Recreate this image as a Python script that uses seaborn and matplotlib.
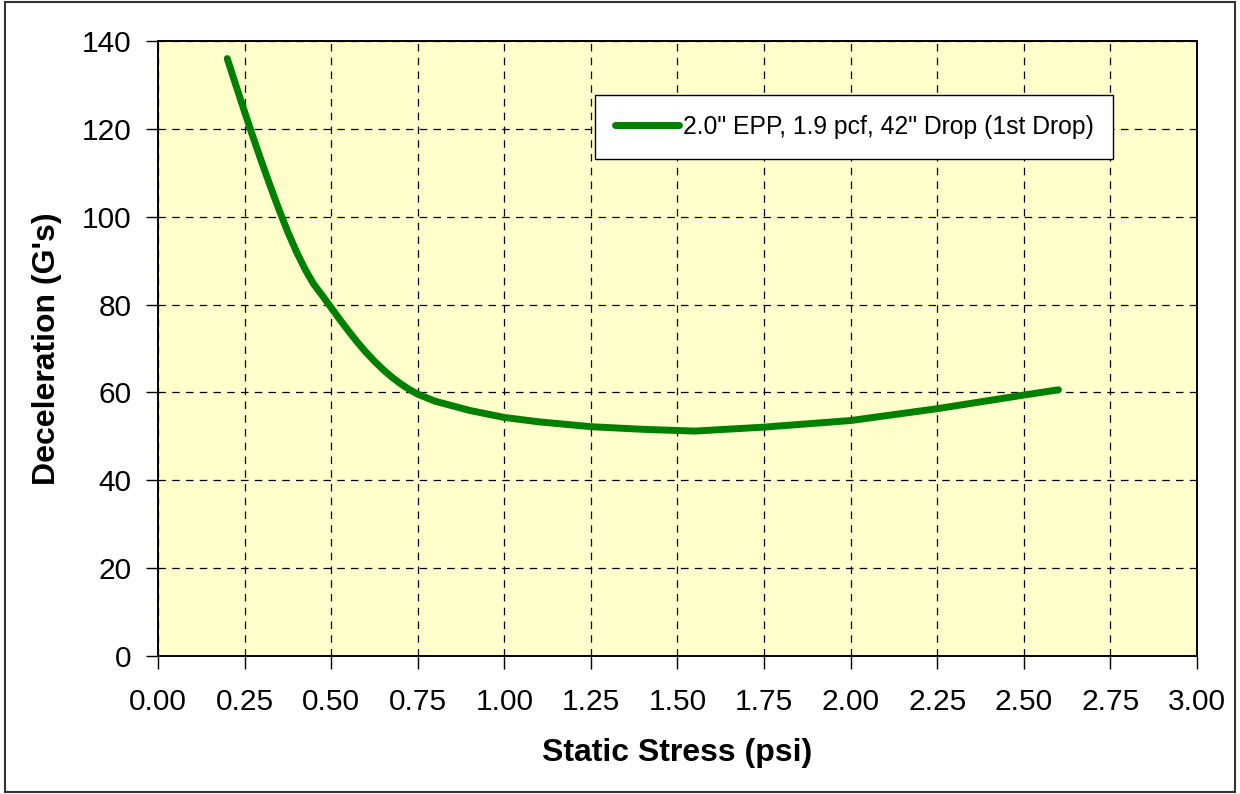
import matplotlib
matplotlib.use("Agg")
import matplotlib.pyplot as plt
import seaborn as sns
import pandas as pd
from matplotlib.patches import Rectangle

# data
static_stress = [0.200, 0.225, 0.250, 0.275, 0.300, 0.325, 0.350, 0.375, 0.400, 0.425,
                 0.450, 0.475, 0.500, 0.525, 0.550, 0.575, 0.600, 0.625, 0.650, 0.675,
                 0.700, 0.725, 0.750, 0.800, 0.900, 1.000, 1.100, 1.250, 1.400, 1.550,
                 1.750, 2.000, 2.250, 2.500, 2.600]
deceleration = [136.0, 129.9, 123.9, 118.0, 112.3, 106.8, 101.5, 96.5, 92.0, 88.0,
                84.6, 82.0, 79.3, 76.6, 74.0, 71.5, 69.2, 67.1, 65.2, 63.5,
                62.0, 60.7, 59.6, 58.0, 55.9, 54.3, 53.3, 52.2, 51.6, 51.2,
                52.1, 53.6, 56.3, 59.4, 60.6]
series_label = '2.0" EPP, 1.9 pcf, 42" Drop (1st Drop)'
x_ticks = [0.00, 0.25, 0.50, 0.75, 1.00, 1.25, 1.50, 1.75, 2.00, 2.25, 2.50, 2.75, 3.00]
y_ticks = [0, 20, 40, 60, 80, 100, 120, 140]

sns.set_style("white")
plt.rcParams['font.family'] = ['Liberation Sans', 'DejaVu Sans']
plt.rcParams['text.color'] = 'black'
plt.rcParams['axes.labelcolor'] = 'black'

df = pd.DataFrame({'x': static_stress, 'y': deceleration})

fig = plt.figure(figsize=(12.4, 7.94), dpi=100)
ax = fig.add_axes([0.1274, 0.1738, 0.8379, 0.7746])
ax.set_facecolor('#FFFFCC')

sns.lineplot(data=df, x='x', y='y', ax=ax, color='#008000', linewidth=5,
             label=series_label, solid_capstyle='round', solid_joinstyle='round')

ax.set_xlim(0, 3.0)
ax.set_ylim(0, 140)
ax.set_xticks(x_ticks)
ax.set_xticklabels(["%.2f" % v for v in x_ticks])
ax.set_yticks(y_ticks)
ax.grid(True, color='black', linestyle=(0, (6, 5)), linewidth=0.9)
ax.tick_params(axis='both', direction='out', length=9, width=1, labelsize=21.5,
               color='black', labelcolor='black', left=True, bottom=True)
ax.tick_params(axis='x', pad=14)
ax.tick_params(axis='y', pad=10)
for s in ax.spines.values():
    s.set_color('black')
    s.set_linewidth(1.4)

ax.set_xlabel('Static Stress (psi)', fontsize=23, fontweight='bold', labelpad=16, color='black')
ax.set_ylabel("Deceleration (G's)", fontsize=23, fontweight='bold', labelpad=14, color='black')

leg = ax.legend(loc='upper left', bbox_to_anchor=(0.4206, 0.912), fontsize=17.8,
                frameon=True, fancybox=False, framealpha=1, edgecolor='black',
                handlelength=2.6, handletextpad=0.15, borderpad=0.8,
                borderaxespad=0, labelcolor='black')
leg.get_frame().set_linewidth(1.0)

fig.patches.append(Rectangle((0.004, 0.002), 0.992, 0.996, transform=fig.transFigure,
                             fill=False, edgecolor='#333333', linewidth=1.5))

fig.savefig('out.png', dpi=100, facecolor='white')
